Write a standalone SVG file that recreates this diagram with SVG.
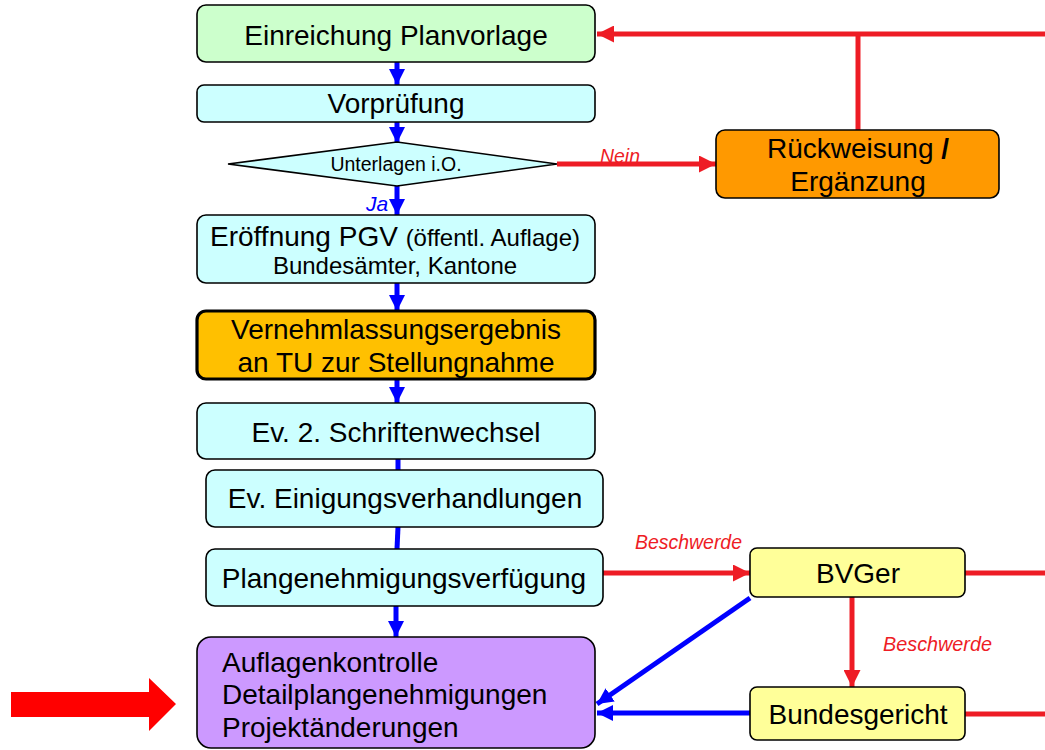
<svg xmlns="http://www.w3.org/2000/svg" width="1045" height="750" viewBox="0 0 1045 750">
<defs>
<marker id="ab" viewBox="0 0 10 10" refX="10" refY="5" markerWidth="3.2" markerHeight="3.2" orient="auto" markerUnits="strokeWidth"><path d="M0,0 L10,5 L0,10 z" fill="#0000ff"/></marker>
<marker id="ar" viewBox="0 0 10 10" refX="10" refY="5" markerWidth="3.4" markerHeight="3.4" orient="auto" markerUnits="strokeWidth"><path d="M0,0 L10,5 L0,10 z" fill="#ee1c25"/></marker>
</defs>
<style>
.box{stroke:#000;stroke-width:1.6}
.cyan{fill:#ccffff}
.t{font-family:"Liberation Sans",Arial,sans-serif;fill:#000;font-size:28px}
.c{text-anchor:middle}
.b{stroke:#0000ff;stroke-width:5;fill:none}
.r{stroke:#ee1c25;stroke-width:5;fill:none}
.lr{font-family:"Liberation Sans",Arial,sans-serif;font-style:italic;fill:#ee1c25;font-size:21px}
</style>
<rect width="1045" height="750" fill="#fff"/>
<g id="connectors">
<line class="b" x1="397" y1="62" x2="397" y2="85" marker-end="url(#ab)"/>
<line class="b" x1="397" y1="122" x2="397" y2="143" marker-end="url(#ab)"/>
<line class="b" x1="397" y1="186" x2="397" y2="215" marker-end="url(#ab)"/>
<line class="b" x1="397" y1="283" x2="397" y2="311" marker-end="url(#ab)"/>
<line class="b" x1="397" y1="379" x2="397" y2="403" marker-end="url(#ab)"/>
<line class="b" x1="398" y1="459" x2="398" y2="470"/>
<line class="b" x1="398" y1="527" x2="397" y2="549"/>
<line class="b" x1="396" y1="606" x2="396" y2="637" marker-end="url(#ab)"/>
<line class="r" x1="557" y1="164" x2="716" y2="164" marker-end="url(#ar)"/>
<line class="r" x1="858" y1="130" x2="858" y2="34"/>
<line class="r" x1="1045" y1="34" x2="597" y2="34" marker-end="url(#ar)"/>
<line class="r" x1="603" y1="573" x2="750" y2="573" marker-end="url(#ar)"/>
<line class="r" x1="965" y1="573" x2="1045" y2="573"/>
<line class="r" x1="852" y1="597" x2="852" y2="687" marker-end="url(#ar)"/>
<line class="r" x1="965" y1="714" x2="1045" y2="714"/>
<line class="b" x1="750" y1="598" x2="597" y2="704" marker-end="url(#ab)"/>
<line class="b" x1="750" y1="713" x2="597" y2="713" marker-end="url(#ab)"/>
<text class="lr" x="600" y="163" textLength="40" lengthAdjust="spacingAndGlyphs">Nein</text>
<text x="366" y="211" font-family="Liberation Sans, Arial, sans-serif" font-style="italic" font-size="21" fill="#0000ff">Ja</text>
<text class="lr" x="635" y="549" textLength="107" lengthAdjust="spacingAndGlyphs">Beschwerde</text>
<text class="lr" x="883" y="651" textLength="109" lengthAdjust="spacingAndGlyphs">Beschwerde</text>
</g>
<g id="einreichung">
<rect class="box" x="197" y="5" width="398" height="57" rx="9" fill="#ccffcc"/>
<text class="t c" x="396" y="45">Einreichung Planvorlage</text>
</g>
<g id="vorpruefung">
<rect class="box cyan" x="197" y="85" width="398" height="37" rx="7"/>
<text class="t c" x="396" y="113">Vorprüfung</text>
</g>
<g id="unterlagen">
<polygon class="box cyan" points="228,164 397,142 557,164 397,186"/>
<text class="t c" x="396" y="171" style="font-size:19.5px">Unterlagen i.O.</text>
</g>
<g id="rueckweisung">
<rect class="box" x="716" y="130" width="283" height="68" rx="9" fill="#ff9900"/>
<text class="t c" x="858" y="158">Rückweisung <tspan font-weight="bold">/</tspan></text>
<text class="t c" x="858" y="191">Ergänzung</text>
</g>
<g id="eroeffnung">
<rect class="box cyan" x="197" y="215" width="398" height="68" rx="9"/>
<text class="t c" x="395" y="246">Eröffnung PGV <tspan style="font-size:24px">(öffentl. Auflage)</tspan></text>
<text class="t c" x="395" y="274" style="font-size:24px">Bundesämter, Kantone</text>
</g>
<g id="vernehmlassung">
<rect x="197" y="311" width="398" height="68" rx="9" fill="#ffc000" stroke="#000" stroke-width="3.2"/>
<text class="t c" x="396" y="339">Vernehmlassungsergebnis</text>
<text class="t c" x="396" y="372">an TU zur Stellungnahme</text>
</g>
<g id="schriftenwechsel">
<rect class="box cyan" x="197" y="403" width="398" height="56" rx="9"/>
<text class="t c" x="396" y="442">Ev. 2. Schriftenwechsel</text>
</g>
<g id="einigung">
<rect class="box cyan" x="206" y="470" width="397" height="57" rx="9"/>
<text class="t c" x="405" y="508">Ev. Einigungsverhandlungen</text>
</g>
<g id="plangenehmigung">
<rect class="box cyan" x="206" y="549" width="397" height="57" rx="9"/>
<text class="t c" x="404" y="588">Plangenehmigungsverfügung</text>
</g>
<g id="auflagen">
<rect class="box" x="197" y="637" width="398" height="111" rx="14" fill="#cc99ff"/>
<text class="t" x="222" y="672">Auflagenkontrolle</text>
<text class="t" x="222" y="704">Detailplangenehmigungen</text>
<text class="t" x="222" y="737">Projektänderungen</text>
</g>
<g id="bvger">
<rect class="box" x="750" y="548" width="215" height="49" rx="7" fill="#ffff99"/>
<text class="t c" x="858" y="583">BVGer</text>
</g>
<g id="bundesgericht">
<rect class="box" x="750" y="687" width="215" height="53" rx="7" fill="#ffff99"/>
<text class="t c" x="858" y="724">Bundesgericht</text>
</g>
<g id="bigarrow">
<polygon points="11,692 149,692 149,678 176,704 149,731 149,717 11,717" fill="#ff0000"/>
</g>
</svg>
